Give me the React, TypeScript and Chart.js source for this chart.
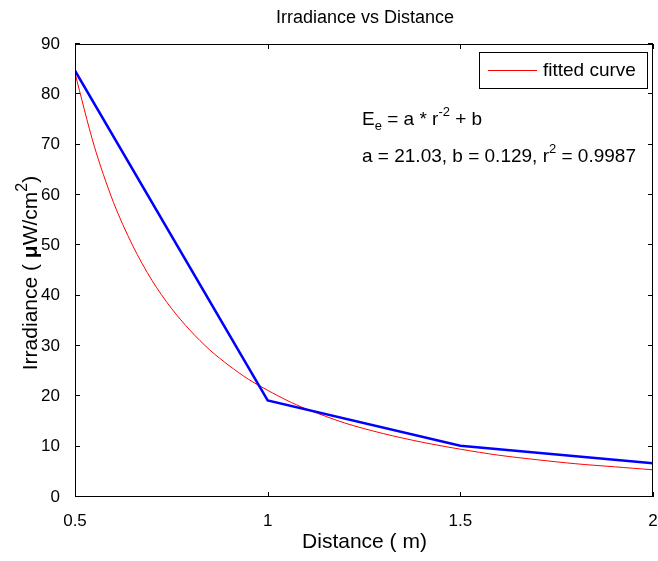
import React, { useEffect, useRef } from "react";
import { Chart, registerables } from "chart.js";

Chart.register(...registerables);

// ---- data ----
const distance = [0.5, 1, 1.5, 2];
const measured = [84.7, 19.2, 10.2, 6.7];

const fitDistance = [0.5, 0.55, 0.6, 0.65, 0.7, 0.75, 0.8, 0.85, 0.9, 0.95, 1.0, 1.05, 1.1, 1.2, 1.3, 1.4, 1.5, 1.6, 1.7, 1.8, 1.9, 2.0];
const fitIrradiance = [84.2, 69.7, 58.5, 49.9, 43.0, 37.5, 33.0, 29.2, 26.1, 23.4, 21.2, 19.2, 17.5, 14.7, 12.6, 10.9, 9.5, 8.3, 7.4, 6.6, 6.0, 5.4];

const xTickValues = [0.5, 1, 1.5, 2];
const yTickValues = [0, 10, 20, 30, 40, 50, 60, 70, 80, 90];

const titleText = "Irradiance vs Distance";
const xTitleText = "Distance ( m)";
const legendText = "fitted curve";

const FONT = "'Liberation Sans', Arial, Helvetica, sans-serif";

const decorPlugin = {
  id: "decor",
  afterDraw(chart: any) {
    const ctx = chart.ctx as CanvasRenderingContext2D;
    const { left, right, top, bottom } = chart.chartArea;
    const xs = chart.scales.x;
    const ys = chart.scales.y;
    ctx.save();
    ctx.strokeStyle = "#000";
    ctx.lineWidth = 1;
    // box
    ctx.strokeRect(Math.round(left) + 0.5, Math.round(top) + 0.5, Math.round(right - left) - 1, Math.round(bottom - top) - 1);
    // inward ticks
    const tl = 5;
    ctx.beginPath();
    xTickValues.forEach((v) => {
      const px = Math.round(xs.getPixelForValue(v)) + 0.5;
      ctx.moveTo(px, bottom);
      ctx.lineTo(px, bottom - tl);
      ctx.moveTo(px, top);
      ctx.lineTo(px, top + tl);
    });
    yTickValues.forEach((v) => {
      const py = Math.round(ys.getPixelForValue(v)) - 0.5;
      ctx.moveTo(left, py);
      ctx.lineTo(left + tl, py);
      ctx.moveTo(right, py);
      ctx.lineTo(right - tl, py);
    });
    ctx.stroke();

    ctx.fillStyle = "#000";
    // title
    ctx.font = `18px ${FONT}`;
    ctx.textAlign = "center";
    ctx.textBaseline = "middle";
    ctx.fillText(titleText, 365, 18);
    // x title
    ctx.font = `21px ${FONT}`;
    ctx.fillText(xTitleText, 364.5, 542);

    // y title (rotated, with bold mu and superscript)
    const ySize = 21;
    const parts: { t: string; f: string; dy: number }[] = [
      { t: "Irradiance ( ", f: `${ySize}px ${FONT}`, dy: 0 },
      { t: "\u03bc", f: `bold ${ySize}px ${FONT}`, dy: 0 },
      { t: "W/cm", f: `${ySize}px ${FONT}`, dy: 0 },
      { t: "2", f: `${Math.round(ySize * 0.75)}px ${FONT}`, dy: -8 },
      { t: ")", f: `${ySize}px ${FONT}`, dy: 0 },
    ];
    let total = 0;
    parts.forEach((p) => {
      ctx.font = p.f;
      total += ctx.measureText(p.t).width;
    });
    ctx.save();
    ctx.translate(31, 273);
    ctx.rotate(-Math.PI / 2);
    ctx.textAlign = "left";
    ctx.textBaseline = "middle";
    let cx = -total / 2;
    parts.forEach((p) => {
      ctx.font = p.f;
      ctx.fillText(p.t, cx, p.dy);
      cx += ctx.measureText(p.t).width;
    });
    ctx.restore();

    // legend
    const lx = 479, ly = 52, lw = 168, lh = 36;
    ctx.fillStyle = "#fff";
    ctx.fillRect(lx, ly, lw, lh);
    ctx.strokeStyle = "#000";
    ctx.strokeRect(lx + 0.5, ly + 0.5, lw, lh);
    ctx.strokeStyle = "#ff0000";
    ctx.beginPath();
    ctx.moveTo(488, 70.5);
    ctx.lineTo(537, 70.5);
    ctx.stroke();
    ctx.fillStyle = "#000";
    ctx.font = `19px ${FONT}`;
    ctx.textAlign = "left";
    ctx.textBaseline = "middle";
    ctx.fillText(legendText, 543, 71);

    // equation
    const drawRuns = (runs: { t: string; size: number; dy: number }[], x0: number, y0: number) => {
      let x = x0;
      ctx.textBaseline = "alphabetic";
      runs.forEach((r) => {
        ctx.font = `${r.size}px ${FONT}`;
        ctx.fillText(r.t, x, y0 + r.dy);
        x += ctx.measureText(r.t).width;
      });
    };
    const eq = 19;
    const sm = 13;
    drawRuns(
      [
        { t: "E", size: eq, dy: 0 },
        { t: "e", size: sm, dy: 5 },
        { t: " = a * r", size: eq, dy: 0 },
        { t: "-2", size: sm, dy: -9 },
        { t: " + b", size: eq, dy: 0 },
      ],
      362,
      125
    );
    drawRuns(
      [
        { t: "a = 21.03, b = 0.129, r", size: eq, dy: 0 },
        { t: "2", size: sm, dy: -9 },
        { t: " = 0.9987", size: eq, dy: 0 },
      ],
      362,
      162
    );
    ctx.restore();
  },
};

export default function App() {
  const ref = useRef<HTMLCanvasElement | null>(null);
  useEffect(() => {
    if (!ref.current) return;
    const chart = new Chart(ref.current, {
      type: "line",
      data: {
        datasets: [
          {
            label: "measured",
            data: distance.map((x, i) => ({ x, y: measured[i] })),
            borderColor: "#0000ff",
            backgroundColor: "#0000ff",
            borderWidth: 2.5,
            pointRadius: 0,
            tension: 0,
          },
          {
            label: legendText,
            data: fitDistance.map((x, i) => ({ x, y: fitIrradiance[i] })),
            borderColor: "#ff0000",
            backgroundColor: "#ff0000",
            borderWidth: 1,
            pointRadius: 0,
            tension: 0.3,
          },
        ],
      },
      options: {
        responsive: false,
        animation: false,
        devicePixelRatio: 1,
        layout: { padding: { top: 44, right: 5, left: 0, bottom: 0 } },
        plugins: { legend: { display: false }, title: { display: false }, tooltip: { enabled: false } },
        scales: {
          x: {
            type: "linear",
            min: 0.5,
            max: 2,
            grid: { display: false },
            border: { display: false },
            afterBuildTicks: (s: any) => {
              s.ticks = xTickValues.map((v) => ({ value: v }));
            },
            afterFit: (s: any) => {
              s.height = 64;
              s.paddingLeft = 0;
              s.paddingRight = 0;
            },
            ticks: {
              color: "#000",
              font: { family: FONT, size: 17 },
              padding: 6,
              maxRotation: 0,
              callback: (v: any) => String(v),
            },
          },
          y: {
            type: "linear",
            min: 0,
            max: 90,
            grid: { display: false },
            border: { display: false },
            afterBuildTicks: (s: any) => {
              s.ticks = yTickValues.map((v) => ({ value: v }));
            },
            afterFit: (s: any) => {
              s.width = 75;
              s.paddingTop = 0;
              s.paddingBottom = 0;
            },
            ticks: {
              color: "#000",
              font: { family: FONT, size: 17 },
              padding: 7,
              callback: (v: any) => String(v),
            },
          },
        },
      },
      plugins: [decorPlugin],
    });
    return () => chart.destroy();
  }, []);
  return (
    <div style={{ position: "fixed", left: 0, top: 0, width: 658, height: 561, background: "#fff" }}>
      <canvas ref={ref} width={658} height={561} style={{ width: 658, height: 561 }} />
    </div>
  );
}
